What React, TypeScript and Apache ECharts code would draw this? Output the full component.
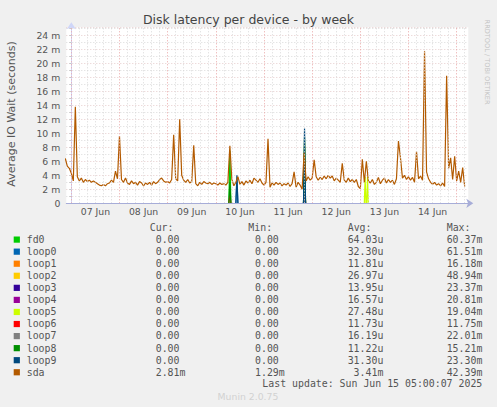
import { useEffect, useRef } from 'react';
import * as echarts from 'echarts';

// x unit: hours since 07 Jun 00:00, y unit: milliseconds
const dayLabels = ['07 Jun', '08 Jun', '09 Jun', '10 Jun', '11 Jun', '12 Jun', '13 Jun', '14 Jun'];

// sda, one value per hour
const sdaJun06 = [6.4, 5.3, 5.0]; // 21:00 - 23:00
const sdaJun07 = [4.3, 3.2, 13.8, 3.8, 3.2, 3.6, 3.0, 3.4, 3.1, 3.3, 3.0, 3.2, 3.0, 2.8, 2.6, 2.5, 2.7, 2.5, 2.8, 2.9, 3.3, 3.0, 4.6, 3.5];
const sdaJun08 = [9.6, 3.4, 3.0, 3.6, 2.9, 2.7, 3.2, 2.8, 3.0, 2.6, 3.1, 2.9, 2.5, 2.9, 2.7, 3.0, 2.6, 3.1, 2.8, 3.0, 3.4, 3.6, 3.2, 3.0];
const sdaJun09 = [3.1, 2.9, 3.4, 9.8, 3.5, 3.2, 12.0, 4.0, 3.3, 3.0, 3.4, 2.9, 3.1, 8.3, 2.8, 2.5, 3.0, 2.7, 3.1, 2.9, 2.8, 3.0, 2.7, 2.9];
const sdaJun10 = [2.8, 2.6, 2.9, 2.7, 2.8, 2.6, 3.0, 8.2, 3.4, 2.5, 3.0, 3.8, 2.7, 3.1, 2.6, 3.2, 2.9, 3.3, 2.8, 3.6, 3.3, 3.0, 3.5, 2.9];
const sdaJun11 = [2.6, 3.0, 9.2, 2.3, 2.9, 2.6, 3.0, 2.7, 2.9, 2.5, 2.8, 2.6, 2.9, 2.4, 2.8, 4.5, 2.3, 3.0, 2.6, 2.0, 7.2, 3.2, 3.8, 3.3];
const sdaJun12 = [3.6, 6.2, 3.8, 3.3, 3.7, 3.4, 3.9, 3.5, 4.0, 3.6, 3.9, 3.2, 3.6, 3.3, 3.0, 5.7, 3.3, 3.0, 3.6, 3.1, 3.4, 3.0, 3.4, 2.4];
const sdaJun13 = [2.1, 6.3, 3.0, 6.0, 3.2, 2.9, 3.4, 2.7, 3.0, 3.7, 2.8, 3.3, 3.6, 2.9, 3.4, 3.0, 3.3, 2.7, 3.5, 8.9, 6.5, 3.6, 4.0, 3.4];
const sdaJun14 = [3.8, 3.3, 3.7, 3.0, 7.4, 3.5, 3.9, 3.3, 21.7, 4.5, 3.5, 3.0, 2.7, 3.0, 2.6, 2.8, 2.5, 2.9, 2.4, 18.2, 5.0, 6.5, 3.4, 6.7];
const sdaJun15 = [3.2, 4.6, 3.0, 5.1, 2.4]; // 00:00 - 04:00

// the other devices are zero except for a few short spikes: [hour, ms]
const fd0Points = [[78.5, 0], [79, 7.5], [79.5, 0], [115.7, 0], [116.2, 8.0], [116.7, 0]];
const loop0Points = [[82, 0], [82.5, 3.4], [83, 0], [115.7, 0], [116.2, 5.0], [116.7, 0]];
const loop1Points = [[115.7, 0], [116.2, 6.0], [116.7, 0]];
const loop2Points = [[115.7, 0], [116.2, 8.6], [116.7, 0]];
const loop3Points = [[115.7, 0], [116.2, 3.5], [116.7, 0]];
const loop4Points = [[115.7, 0], [116.2, 4.5], [116.7, 0]];
const loop5Points = [[146, 0], [146.4, 3.8], [146.8, 0], [147.2, 0], [147.6, 3.8], [148, 0]];
const loop6Points = [[78.5, 0], [79, 1.2], [79.5, 0]];
const loop7Points = [[115.7, 0], [116.2, 4.0], [116.7, 0]];
const loop8Points = [[78.5, 0], [79, 3.0], [79.5, 0], [115.7, 0], [116.2, 9.5], [116.7, 0]];
const loop9Points = [[82, 0], [82.5, 4.0], [83, 0], [115.7, 0], [116.2, 10.7], [116.7, 0]];

const names = ['fd0', 'loop0', 'loop1', 'loop2', 'loop3', 'loop4', 'loop5', 'loop6', 'loop7', 'loop8', 'loop9', 'sda'];
const colors = ['#00CC00', '#0066B3', '#FF8000', '#FFCC00', '#330099', '#990099', '#CCFF00', '#FF0000', '#808080', '#008F00', '#00487D', '#B35A00'];
const curValues = ['0.00', '0.00', '0.00', '0.00', '0.00', '0.00', '0.00', '0.00', '0.00', '0.00', '0.00', '2.81m'];
const minValues = ['0.00', '0.00', '0.00', '0.00', '0.00', '0.00', '0.00', '0.00', '0.00', '0.00', '0.00', '1.29m'];
const avgValues = ['64.03u', '32.30u', '11.81u', '26.97u', '13.95u', '16.57u', '27.48u', '11.73u', '16.19u', '11.22u', '31.30u', '3.41m'];
const maxValues = ['60.37m', '61.51m', '16.18m', '48.94m', '23.37m', '20.81m', '19.04m', '11.75m', '22.01m', '15.21m', '23.30m', '42.39m'];

const TEXT = '#555555';
const SANS = 'DejaVu Sans';
const MONO = 'DejaVu Sans Mono';
const CHAR_W = 5.96;

const sdaDays = [sdaJun06, sdaJun07, sdaJun08, sdaJun09, sdaJun10, sdaJun11, sdaJun12, sdaJun13, sdaJun14, sdaJun15];
const sdaData: number[][] = [];
sdaDays.forEach((day, d) => {
  const first = d === 0 ? 24 - day.length : 0;
  day.forEach((v, i) => sdaData.push([(d - 1) * 24 + first + i, v]));
});

// break the line between two zero points so no line runs along the axis
const withGaps = (pts: number[][]) => {
  const out: any[] = [];
  pts.forEach((p, i) => {
    const prev = pts[i - 1];
    if (prev && prev[1] === 0 && p[1] === 0) out.push([(prev[0] + p[0]) / 2, '-']);
    out.push(p);
  });
  return out;
};

const spikeSeries = [fd0Points, loop0Points, loop1Points, loop2Points, loop3Points, loop4Points,
  loop5Points, loop6Points, loop7Points, loop8Points, loop9Points];

const txt = (x: number, y: number, text: string, extra: any = {}) => ({
  type: 'text',
  x,
  y,
  silent: true,
  style: {
    text,
    fill: TEXT,
    fontFamily: MONO,
    fontSize: 9.9,
    align: 'left',
    verticalAlign: 'middle',
    textAlign: 'left',
    textVerticalAlign: 'middle',
    ...extra,
  },
});

// place a "%6.2lf%s" style field
const field = (start: number, y: number, s: string) => {
  const num = s.replace(/[a-z]$/i, '');
  return txt(start + (6 - num.length) * CHAR_W, y, s);
};

const buildGraphics = () => {
  const g: any[] = [];
  g.push(txt(248.5, 19, 'Disk latency per device - by week', {
    fontFamily: SANS, fontSize: 12.5, align: 'center', textAlign: 'center', fill: '#444',
  }));
  g.push({
    ...txt(11, 114, 'Average IO Wait (seconds)', {
      fontFamily: SANS, fontSize: 11, align: 'center', textAlign: 'center',
    }),
    rotation: Math.PI / 2,
  });
  g.push({
    ...txt(487.3, 62, 'RRDTOOL / TOBI OETIKER', {
      fontFamily: SANS, fontSize: 6.6, align: 'center', textAlign: 'center', fill: '#c4c4c4',
    }),
    rotation: -Math.PI / 2,
  });
  const headY = 227.7;
  g.push(txt(149.7, headY, 'Cur:'));
  g.push(txt(248.3, headY, 'Min:'));
  g.push(txt(347.7, headY, 'Avg:'));
  g.push(txt(446.7, headY, 'Max:'));
  names.forEach((name, i) => {
    const y = 239.5 + i * 12.06;
    g.push({
      type: 'rect',
      silent: true,
      shape: { x: 13.7, y: y - 3, width: 6.2, height: 6.2 },
      style: { fill: colors[i] },
    });
    g.push(txt(26.7, y, name));
    g.push(field(143.8, y, curValues[i]));
    g.push(field(243.1, y, minValues[i]));
    g.push(field(341.7, y, avgValues[i]));
    g.push(field(440.7, y, maxValues[i]));
  });
  g.push(txt(482.3, 383.5, 'Last update: Sun Jun 15 05:00:07 2025', { align: 'right', textAlign: 'right' }));
  g.push(txt(248, 396, 'Munin 2.0.75', {
    fontFamily: SANS, fontSize: 9.3, align: 'center', textAlign: 'center', fill: '#d2d2d2',
  }));
  return g;
};

const gridLines = () => {
  const items: any[] = [];
  for (let h = 0; h <= 196; h += 4) {
    const major = h % 24 === 0;
    items.push({
      xAxis: h,
      lineStyle: { color: major ? '#eaa5a5' : '#d9d9d9', type: [1, 2], width: 1 },
    });
  }
  return items;
};

export default function App() {
  const ref = useRef<HTMLDivElement>(null);

  useEffect(() => {
    if (!ref.current) return;
    const chart = echarts.init(ref.current, undefined, { renderer: 'svg' });
    chart.setOption({
      animation: false,
      backgroundColor: '#f0f0f0',
      grid: {
        left: 66.3, top: 27.3, right: 28.7, bottom: 203.7,
        show: true, backgroundColor: '#ffffff', borderWidth: 0,
      },
      xAxis: {
        type: 'value',
        min: -2.5,
        max: 197.8,
        z: 10,
        axisLine: {
          lineStyle: { color: '#a7add8' },
          symbol: ['none', 'arrow'],
          symbolSize: [7, 7],
          symbolOffset: [0, 5],
        },
        axisTick: { show: false },
        splitLine: { show: false },
        axisLabel: {
          customValues: dayLabels.map((_, i) => i * 24 + 12),
          formatter: (v: number) => dayLabels[Math.floor(v / 24)] ?? '',
          color: TEXT,
          fontFamily: SANS,
          fontSize: 9.3,
          margin: 4,
        },
      },
      yAxis: {
        type: 'value',
        min: 0,
        max: 25.14,
        interval: 1,
        axisLine: {
          show: true,
          lineStyle: { color: '#cfd6f8' },
          symbol: ['none', 'arrow'],
          symbolSize: [7, 7],
          symbolOffset: [0, 5],
        },
        axisTick: { show: true, length: 2, lineStyle: { color: '#c8c8c8' } },
        splitLine: {
          show: true,
          lineStyle: { color: ['#e6cccc', '#dadada'], type: [1, 2], width: 1 },
        },
        axisLabel: {
          formatter: (v: number) => (v === 0 ? '0' : Math.abs(v % 2) < 1e-6 ? `${v} m` : ''),
          color: TEXT,
          fontFamily: SANS,
          fontSize: 9.3,
          margin: 6,
          showMaxLabel: false,
        },
      },
      series: [
        {
          type: 'line',
          name: 'grid',
          z: 1,
          silent: true,
          data: [[-2.5, 0]],
          showSymbol: false,
          lineStyle: { width: 0 },
          markLine: {
            silent: true,
            symbol: ['none', 'none'],
            label: { show: false },
            animation: false,
            data: gridLines(),
          },
        },
        ...spikeSeries.map((pts, i) => ({
          type: 'line',
          name: names[i],
          data: withGaps(pts),
          showSymbol: false,
          silent: true,
          lineStyle: { color: colors[i], width: 1.2 },
          itemStyle: { color: colors[i] },
        })),
        {
          type: 'line',
          name: 'sda',
          data: sdaData,
          showSymbol: false,
          silent: true,
          lineStyle: { color: colors[11], width: 1.2 },
          itemStyle: { color: colors[11] },
        },
      ],
      graphic: buildGraphics(),
    });
    return () => chart.dispose();
  }, []);

  return (
    <div style={{ position: 'fixed', left: 0, top: 0, width: 497, height: 407 }}>
      <div ref={ref} style={{ width: 497, height: 407 }} />
    </div>
  );
}
